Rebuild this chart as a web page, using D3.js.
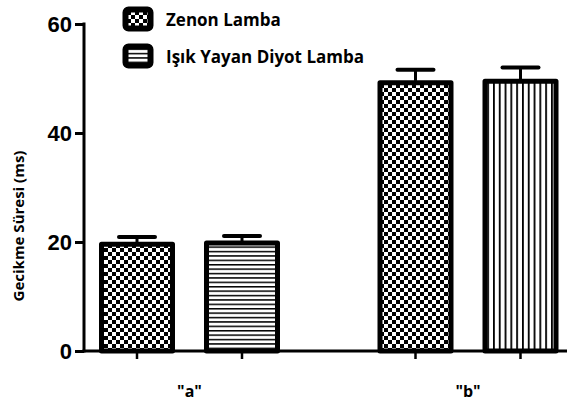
<!DOCTYPE html>
<html>
<head>
<meta charset="utf-8">
<script src="https://cdn.jsdelivr.net/npm/d3@7/dist/d3.min.js"></script>
<style>
  html, body { margin: 0; padding: 0; background: #fff; }
  svg { display: block; }
</style>
</head>
<body>
<svg id="chart" width="572" height="401"></svg>
<script>
// Groups, series and values (ms)
const groups = ["\"a\"", "\"b\""];
const series = ["Zenon Lamba", "Işık Yayan Diyot Lamba"];
const zenonValues = [19.6, 49.2];
const zenonErrors = [1.3, 2.4];
const ledValues = [19.8, 49.5];
const ledErrors = [1.3, 2.5];
// fill pattern for each bar: checker for Zenon, stripes for LED
const zenonPatterns = ["checker", "checker"];
const ledPatterns = ["hstripe", "vstripe"];
const yTicks = [0, 20, 40, 60];

const rows = [];
groups.forEach((g, i) => {
  rows.push({ group: g, series: series[0], value: zenonValues[i], err: zenonErrors[i], pattern: zenonPatterns[i] });
  rows.push({ group: g, series: series[1], value: ledValues[i], err: ledErrors[i], pattern: ledPatterns[i] });
});

const svg = d3.select("#chart");
const defs = svg.append("defs");

// checkerboard
const chk = defs.append("pattern").attr("id", "checker")
  .attr("patternUnits", "userSpaceOnUse").attr("width", 8).attr("height", 8);
chk.append("rect").attr("width", 8).attr("height", 8).attr("fill", "#fff");
chk.append("rect").attr("x", 0).attr("y", 0).attr("width", 4).attr("height", 4).attr("fill", "#000");
chk.append("rect").attr("x", 4).attr("y", 4).attr("width", 4).attr("height", 4).attr("fill", "#000");

// horizontal stripes
const hs = defs.append("pattern").attr("id", "hstripe")
  .attr("patternUnits", "userSpaceOnUse").attr("width", 8).attr("height", 4.4);
hs.append("rect").attr("width", 8).attr("height", 4.4).attr("fill", "#fff");
hs.append("rect").attr("y", 0).attr("width", 8).attr("height", 1.5).attr("fill", "#000");

// vertical stripes
const vs = defs.append("pattern").attr("id", "vstripe")
  .attr("patternUnits", "userSpaceOnUse").attr("width", 5.8).attr("height", 8);
vs.append("rect").attr("width", 5.8).attr("height", 8).attr("fill", "#fff");
vs.append("rect").attr("x", 0).attr("width", 1.8).attr("height", 8).attr("fill", "#000");

const axisX0 = 84, axisX1 = 567;
const y = d3.scaleLinear().domain([0, 60]).range([351, 24]);
const xGroup = d3.scalePoint().domain(groups).range([189.5, 468]);
const xSeries = d3.scalePoint().domain(series).range([-52.5, 52.5]);
const barW = 71;

const barX = d => xGroup(d.group) + xSeries(d.series);

// bars
svg.append("g").selectAll("rect").data(rows).join("rect")
  .attr("x", d => barX(d) - barW / 2)
  .attr("y", d => y(d.value))
  .attr("width", barW)
  .attr("height", d => y(0) - y(d.value))
  .attr("fill", d => `url(#${d.pattern})`)
  .attr("stroke", "#000")
  .attr("stroke-width", 5)
  .attr("stroke-linejoin", "round");

// error bars (upper only)
const eb = svg.append("g").selectAll("g").data(rows).join("g");
eb.append("line")
  .attr("x1", barX).attr("x2", barX)
  .attr("y1", d => y(d.value) - 2).attr("y2", d => y(d.value + d.err))
  .attr("stroke", "#000").attr("stroke-width", 3);
eb.append("line")
  .attr("x1", d => barX(d) - 18).attr("x2", d => barX(d) + 18)
  .attr("y1", d => y(d.value + d.err)).attr("y2", d => y(d.value + d.err))
  .attr("stroke", "#000").attr("stroke-width", 4).attr("stroke-linecap", "round");

// y axis
const yAxis = svg.append("g").attr("transform", `translate(${axisX0},0)`)
  .call(d3.axisLeft(y).tickValues(yTicks).tickSize(9).tickPadding(3).tickSizeOuter(0));
yAxis.select(".domain").attr("stroke", "#000").attr("stroke-width", 3)
  .attr("d", `M0,${y(60) - 1.5}V${y(0) + 1.5}`);
yAxis.selectAll(".tick line").attr("stroke", "#000").attr("stroke-width", 3);
yAxis.selectAll(".tick text")
  .attr("font-family", "'Liberation Sans', Arial, sans-serif")
  .attr("font-weight", "bold").attr("font-size", 22).attr("fill", "#000")
  .attr("dy", "0.36em");

// x axis line and ticks under each bar
svg.append("line")
  .attr("x1", axisX0 - 1.5).attr("x2", axisX1)
  .attr("y1", y(0)).attr("y2", y(0))
  .attr("stroke", "#000").attr("stroke-width", 3);
svg.append("g").selectAll("line").data(rows).join("line")
  .attr("x1", barX).attr("x2", barX)
  .attr("y1", y(0)).attr("y2", y(0) + 8)
  .attr("stroke", "#000").attr("stroke-width", 2.5);

// group labels
svg.append("g").selectAll("text").data(groups).join("text")
  .attr("x", d => xGroup(d))
  .attr("y", 397)
  .attr("text-anchor", "middle")
  .attr("font-family", "'Open Sans', sans-serif")
  .attr("font-weight", "bold").attr("font-size", 16).attr("fill", "#000")
  .text(d => d);

// y title
svg.append("text")
  .attr("transform", "translate(24,226) rotate(-90)")
  .attr("text-anchor", "middle")
  .attr("font-family", "'Open Sans', sans-serif")
  .attr("font-weight", "bold").attr("font-size", 15).attr("fill", "#000")
  .text("Gecikme Süresi (ms)");

// legend
const legendPatterns = ["checker", "hstripe"];
const lg = svg.append("g").selectAll("g").data(series).join("g")
  .attr("transform", (d, i) => `translate(123,${7 + i * 37})`);
lg.append("rect")
  .attr("x", 2.5).attr("y", 2.5).attr("width", 25).attr("height", 19)
  .attr("rx", 3)
  .attr("fill", (d, i) => `url(#${legendPatterns[i]})`)
  .attr("stroke", "#000").attr("stroke-width", 6);
lg.append("text")
  .attr("x", 43).attr("y", 19)
  .attr("font-family", "'Open Sans', sans-serif")
  .attr("font-weight", "bold").attr("font-size", 17).attr("fill", "#000")
  .text(d => d);
</script>
</body>
</html>
